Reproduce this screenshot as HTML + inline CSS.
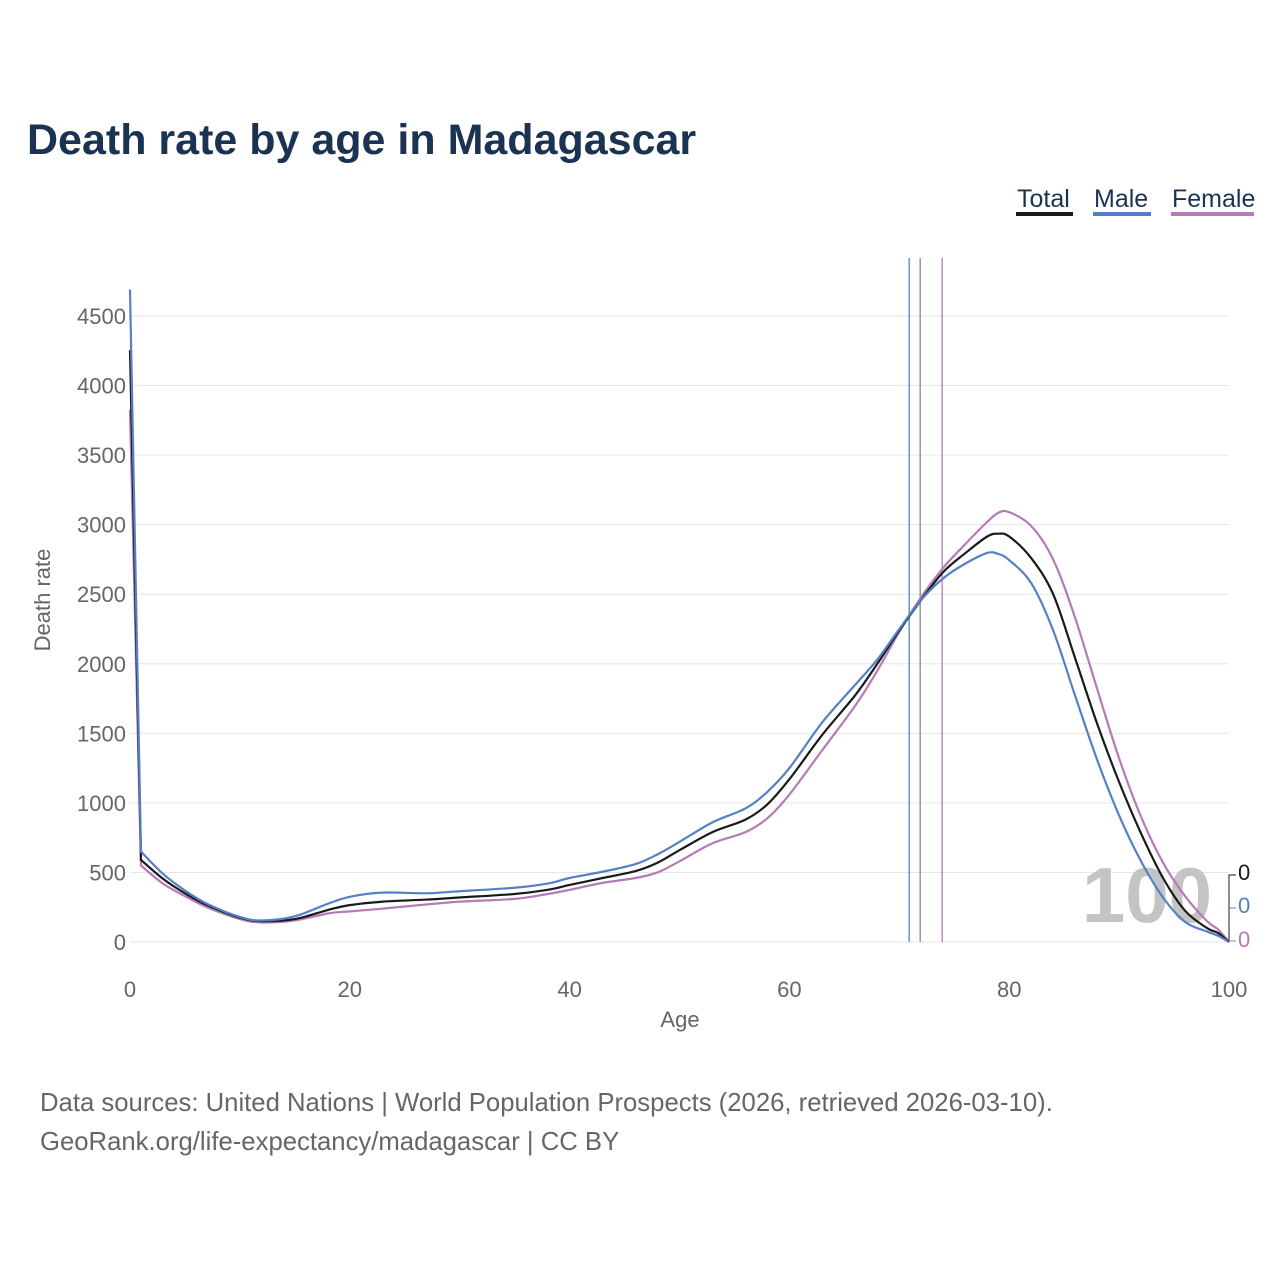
<!DOCTYPE html>
<html><head><meta charset="utf-8"><style>
body{margin:0;background:#fff;font-family:"Liberation Sans",sans-serif}
svg text{font-family:"Liberation Sans",sans-serif}
</style></head><body>
<svg id="c" width="1280" height="1280" viewBox="0 0 1280 1280">
<text x="27" y="154" font-size="43" font-weight="bold" fill="#1b3352">Death rate by age in Madagascar</text>
<g>
<g><text x="1017" y="207" font-size="25" fill="#1b3352">Total</text><rect x="1016" y="212" width="57" height="4" fill="#1a1a1a"/></g>
<g><text x="1094" y="207" font-size="25" fill="#1b3352">Male</text><rect x="1093" y="212" width="58" height="4" fill="#5580c8"/></g>
<g><text x="1172" y="207" font-size="25" fill="#1b3352">Female</text><rect x="1171" y="212" width="83" height="4" fill="#b67ab8"/></g>
</g>
<g id="grid"></g><g id="ticks"></g>
<text x="680" y="1027" font-size="22" fill="#666" text-anchor="middle">Age</text>
<text transform="translate(50,600) rotate(-90)" font-size="22" fill="#666" text-anchor="middle">Death rate</text>
<text x="1147" y="922" font-size="78" font-weight="bold" fill="#c4c4c4" text-anchor="middle">100</text>
<g id="vlines"></g><g id="series"></g>
<g>
<path d="M1236,875 H1229 V942" stroke="#1a1a1a" fill="none"/>
<path d="M1236,908 H1229" stroke="#5580c8" fill="none"/>
<path d="M1236,941 H1229" stroke="#b67ab8" fill="none"/>
<text x="1238" y="880" font-size="22" fill="#1a1a1a">0</text>
<text x="1238" y="913" font-size="22" fill="#5580c8">0</text>
<text x="1238" y="947" font-size="22" fill="#b67ab8">0</text>
</g>
<text x="40" y="1111" font-size="25.7" fill="#666">Data sources: United Nations | World Population Prospects (2026, retrieved 2026-03-10).</text>
<text x="40" y="1150" font-size="25.7" fill="#666">GeoRank.org/life-expectancy/madagascar | CC BY</text>
</svg>
<script>
const ages=[0,1,3,5,7,10,12,15,18,20,23,27,30,35,38,40,43,46,48,50,53,56,58,60,63,66,68,70,72,74,76,78,79,80,82,84,86,88,90,92,94,96,98,99,100];
const totalVals=[4255,590,455,350,265,175,150,165,230,265,290,305,320,345,375,410,460,510,570,660,790,880,990,1170,1490,1775,2000,2240,2460,2660,2795,2915,2935,2915,2760,2500,2040,1570,1150,780,460,225,100,65,0];
const maleVals=[4690,650,490,370,275,180,155,185,275,325,355,350,365,390,420,460,505,560,630,720,860,960,1080,1250,1580,1850,2030,2250,2460,2615,2720,2797,2790,2745,2580,2240,1770,1310,910,580,320,145,75,45,0];
const femaleVals=[3825,550,420,330,250,165,140,155,205,220,240,270,290,310,345,375,425,460,500,580,710,790,890,1060,1380,1700,1950,2230,2480,2690,2860,3020,3085,3090,2990,2750,2330,1820,1320,900,570,330,150,90,0];
const lifeExp=[70.9,71.9,73.9];
const yTicks=[0,500,1000,1500,2000,2500,3000,3500,4000,4500];
const xTicks=[0,20,40,60,80,100];
const X=a=>130+a*10.99, Y=v=>942-v*0.13911;
const NS="http://www.w3.org/2000/svg";
function mk(t,p,at){const e=document.createElementNS(NS,t);for(const k in at)e.setAttribute(k,at[k]);p.appendChild(e);return e;}
const grid=document.getElementById('grid'),ticks=document.getElementById('ticks');
yTicks.forEach(v=>{const l=mk('line',grid,{x1:130,x2:1229,y1:Y(v),y2:Y(v),stroke:'#e6e6e6'});


const t=mk('text',ticks,{x:126,y:Y(v)+8,'font-size':22,fill:'#666','text-anchor':'end'});t.textContent=v;

});
xTicks.forEach(a=>{const t=mk('text',ticks,{x:X(a),y:997,'font-size':22,fill:'#666','text-anchor':'middle'});t.textContent=a;

});
const cols=['#5580c8','#888','#b67ab8'];
const vg=document.getElementById('vlines');
lifeExp.forEach((a,i)=>{const l=mk('line',vg,{x1:X(a),x2:X(a),y1:258,y2:942,stroke:cols[i],'stroke-width':1.3});

});
function path(vals){const p=ages.map((a,i)=>[X(a),Y(vals[i])]);let d=`M${p[0][0]},${p[0][1]} L${p[1][0]},${p[1][1]}`;
for(let i=1;i<p.length-1;i++){const p0=i===1?p[1]:p[i-1],p1=p[i],p2=p[i+1],p3=p[i+2]||p2;
const c1=[p1[0]+(p2[0]-p0[0])/6,p1[1]+(p2[1]-p0[1])/6],c2=[p2[0]-(p3[0]-p1[0])/6,p2[1]-(p3[1]-p1[1])/6];
d+=` C${c1[0]},${c1[1]} ${c2[0]},${c2[1]} ${p2[0]},${p2[1]}`;}return d;}
const sg=document.getElementById('series');
[[femaleVals,'#b67ab8','series-female'],[totalVals,'#1a1a1a','series-total'],[maleVals,'#5580c8','series-male']].forEach(([v,c,n])=>{
const e=mk('path',sg,{d:path(v),stroke:c,fill:'none','stroke-width':2.2});

});
</script>
</body></html>
